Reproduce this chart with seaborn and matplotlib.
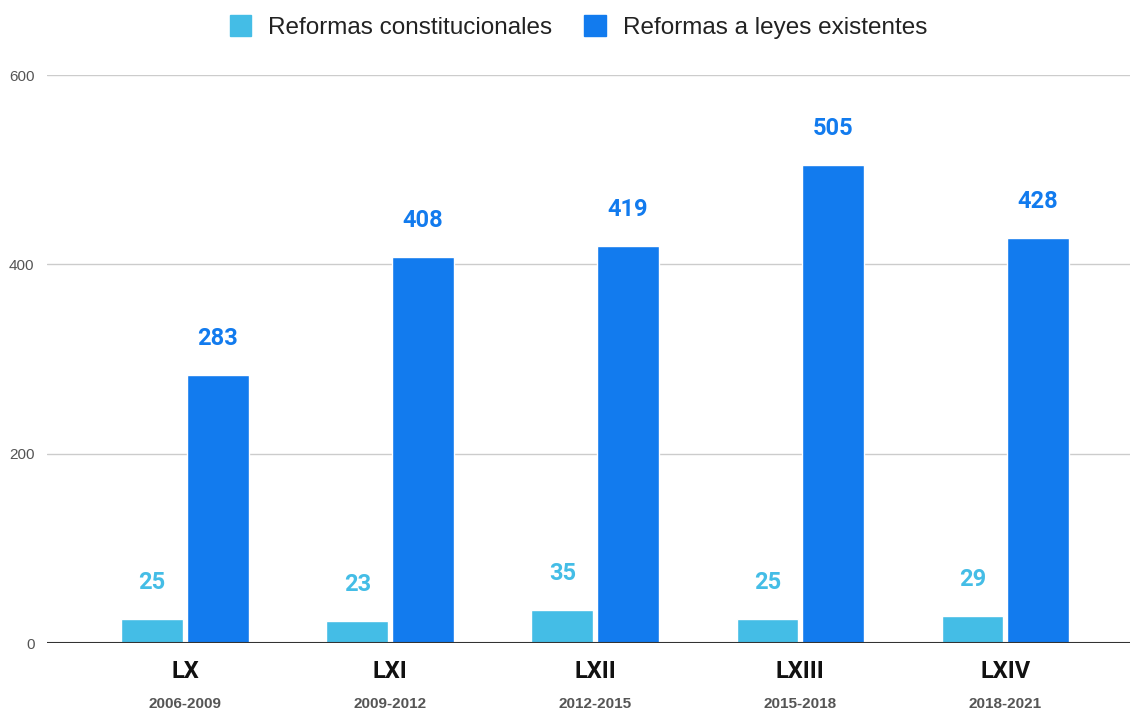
import pandas as pd
import numpy as np
import seaborn as sns
import matplotlib.pyplot as plt

# Datos
legislaturas = ['LX', 'LXI', 'LXII', 'LXIII', 'LXIV']
periodos = ['2006-2009', '2009-2012', '2012-2015', '2015-2018', '2018-2021']
constitucionales = [25, 23, 35, 25, 29]
leyes = [283, 408, 419, 505, 428]
series = ['Reformas constitucionales', 'Reformas a leyes existentes']
colores = ['#44BDE6', '#127BEE']

df = pd.DataFrame({
    'legislatura': legislaturas * 2,
    'tipo': [series[0]] * len(legislaturas) + [series[1]] * len(legislaturas),
    'valor': constitucionales + leyes,
})

sns.set_style('white')
plt.rcParams['font.family'] = ['Liberation Sans', 'DejaVu Sans']

fig = plt.figure(figsize=(11.32, 7.14), dpi=100)
ax = fig.add_axes([0.0415, 0.0994, 0.957, 0.7955])

sns.barplot(data=df, x='legislatura', y='valor', hue='tipo', palette=colores,
            width=0.64, gap=0.06, ax=ax, legend=False, saturation=1)

# Etiquetas de valor
for cont, col in zip(ax.containers, colores):
    ax.bar_label(cont, padding=18, color=col, fontsize=17, fontweight='bold',
                 family='Roboto')

ax.set_ylim(0, 600)
ax.set_xlim(-0.673, 4.61)
ax.set_yticks([0, 200, 400, 600])
ax.yaxis.grid(True, color='#cccccc', linewidth=1)
ax.set_axisbelow(True)
ax.axhline(0, color='#333333', linewidth=1.5, zorder=3)
for s in ax.spines.values():
    s.set_visible(False)
ax.tick_params(axis='y', length=0, labelsize=11, labelcolor='#555555', pad=9)
ax.tick_params(axis='x', length=0, pad=12)
ax.set_xticks(range(len(legislaturas)))
ax.set_xticklabels(legislaturas, fontsize=17, fontweight='bold', color='#111111',
                   family='Roboto')
ax.set_xlabel('')
ax.set_ylabel('')

for i, p in enumerate(periodos):
    ax.text(i, -0.107, p, transform=ax.get_xaxis_transform(), ha='center', va='center',
            fontsize=11, fontweight='bold', color='#555555')

# Leyenda
handles = [plt.Rectangle((0, 0), 1, 1, color=c) for c in colores]
fig.legend(handles, series, loc='center', bbox_to_anchor=(0.511, 0.962), ncol=2,
           frameon=False, fontsize=17.5, handlelength=0.9, handleheight=0.9,
           columnspacing=1.3, handletextpad=0.7, labelcolor='#222222')

plt.savefig('out.png', dpi=100)
